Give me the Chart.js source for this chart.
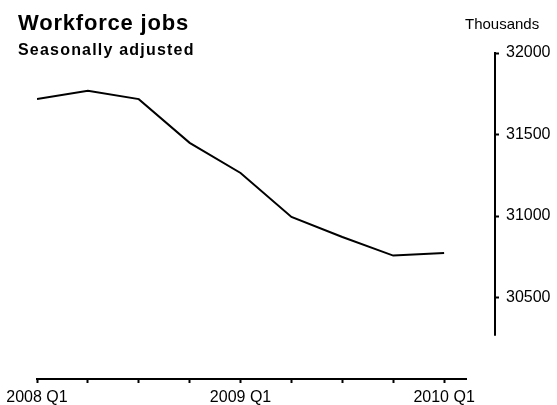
<!DOCTYPE html>
<html>
<head>
<meta charset="utf-8">
<script src="https://cdn.jsdelivr.net/npm/chart.js@4"></script>
<style>
    html, body { margin: 0; padding: 0; background: #fff; }
    #wrap { position: relative; width: 557px; height: 405px; }
</style>
</head>
<body>
<div id="wrap"><canvas id="jobsChart"></canvas></div>
<script>
// Dane (tysiące, wyrównane sezonowo)
const quarters = ['2008 Q1', '2008 Q2', '2008 Q3', '2008 Q4', '2009 Q1', '2009 Q2', '2009 Q3', '2009 Q4', '2010 Q1'];
const jobs = [31717, 31768, 31717, 31449, 31264, 30994, 30871, 30757, 30773];
const yTicks = [30500, 31000, 31500, 32000];
const xTicks = [0, 1, 2, 3, 4, 5, 6, 7, 8];

const FONT = '"Liberation Sans", Arial, sans-serif';

// Osie rysowane ręcznie (krótsze niż obszar wykresu) + teksty nagłówka
const axisAndText = {
    id: 'axisAndText',
    afterDraw(chart) {
        const { ctx, chartArea, scales } = chart;
        ctx.save();
        ctx.strokeStyle = '#000';
        ctx.lineWidth = 2;

        // oś X
        ctx.beginPath();
        ctx.moveTo(scales.x.getPixelForValue(0) - 1, chartArea.bottom);
        ctx.lineTo(scales.x.getPixelForValue(8.45), chartArea.bottom);
        ctx.stroke();

        // oś Y (prawa)
        ctx.beginPath();
        ctx.moveTo(chartArea.right, scales.y.getPixelForValue(32000) - 1);
        ctx.lineTo(chartArea.right, scales.y.getPixelForValue(30265));
        ctx.stroke();

        // teksty
        ctx.fillStyle = '#000';
        ctx.textBaseline = 'alphabetic';
        ctx.textAlign = 'left';
        ctx.font = 'bold 22px ' + FONT;
        ctx.letterSpacing = '0.8px';
        ctx.fillText('Workforce jobs', 18, 30);

        ctx.font = 'bold 16px ' + FONT;
        ctx.letterSpacing = '1.2px';
        ctx.fillText('Seasonally adjusted', 18, 55);

        ctx.font = '15px ' + FONT;
        ctx.letterSpacing = '0px';
        ctx.fillText('Thousands', 465, 29);
        ctx.restore();
    }
};

new Chart(document.getElementById('jobsChart'), {
    type: 'line',
    data: {
        datasets: [{
            label: 'Workforce jobs',
            data: jobs.map((v, i) => ({ x: i, y: v })),
            borderColor: '#000',
            borderWidth: 2,
            tension: 0,
            pointRadius: 0,
            fill: false
        }]
    },
    options: {
        responsive: true,
        maintainAspectRatio: false,
        animation: false,
        layout: { padding: { left: 37, top: 53, right: 0, bottom: 0 } },
        plugins: {
            legend: { display: false },
            tooltip: { enabled: false }
        },
        scales: {
            x: {
                type: 'linear',
                min: 0,
                max: 9,
                border: { display: false },
                grid: {
                    drawOnChartArea: false,
                    drawTicks: true,
                    tickLength: 4,
                    tickWidth: 2,
                    tickColor: '#000'
                },
                afterBuildTicks: (scale) => {
                    scale.ticks = xTicks.map(v => ({ value: v }));
                },
                afterFit: (scale) => { scale.height = 26; },
                ticks: {
                    autoSkip: false,
                    maxRotation: 0,
                    padding: 5,
                    color: '#000',
                    font: { family: FONT, size: 16 },
                    callback: (v) => {
                        const q = quarters[v] || '';
                        return q.endsWith('Q1') ? q : '';
                    }
                }
            },
            y: {
                position: 'right',
                min: 30000,
                max: 32000,
                border: { display: false },
                grid: {
                    drawOnChartArea: false,
                    drawTicks: true,
                    tickLength: 4,
                    tickWidth: 2,
                    tickColor: '#000'
                },
                afterBuildTicks: (scale) => {
                    scale.ticks = yTicks.map(v => ({ value: v }));
                },
                afterFit: (scale) => { scale.width = 62; },
                ticks: {
                    padding: 7,
                    color: '#000',
                    font: { family: FONT, size: 16 },
                    callback: (v) => String(v)
                }
            }
        }
    },
    plugins: [axisAndText]
});
</script>
</body>
</html>
